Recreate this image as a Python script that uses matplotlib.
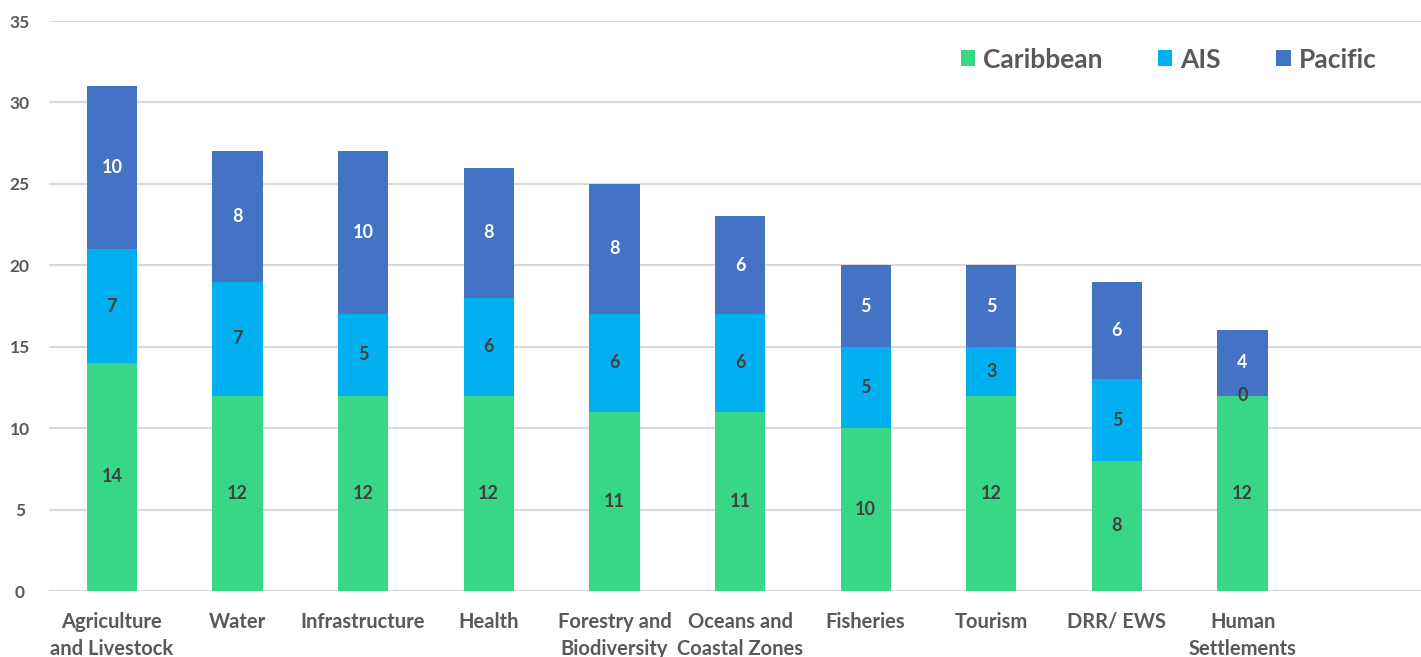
import numpy as np
from matplotlib import pyplot as plt

# sectors and counts per region
sektory = ['Agriculture\nand Livestock', 'Water', 'Infrastructure', 'Health',
           'Forestry and\nBiodiversity', 'Oceans and\nCoastal Zones', 'Fisheries',
           'Tourism', 'DRR/ EWS', 'Human\nSettlements']
caribbean = [14, 12, 12, 12, 11, 11, 10, 12, 8, 12]
ais = [7, 7, 5, 6, 6, 6, 5, 3, 5, 0]
pacific = [10, 8, 10, 8, 8, 6, 5, 5, 6, 4]

plt.rcParams['font.family'] = ['Lato', 'DejaVu Sans']
plt.rcParams['font.weight'] = 'bold'
seda = '#595959'

fig = plt.figure(figsize=(14.21, 6.57), dpi=100)
ax = fig.add_axes([49 / 1421, 66 / 657, 1 - 49 / 1421, 570 / 657])

x = np.arange(len(sektory))
sirka = 0.4
rady = [('Caribbean', caribbean, '#37D786', '#404040'),
        ('AIS', ais, '#00B0F0', '#404040'),
        ('Pacific', pacific, '#4472C4', 'white')]

spodek = np.zeros(len(sektory))
for nazev, hodnoty, barva, barvaTextu in rady:
    hodnoty = np.array(hodnoty)
    ax.bar(x, hodnoty, sirka, bottom=spodek, color=barva, label=nazev, zorder=3)
    for xi, h, b in zip(x, hodnoty, spodek):
        ax.text(xi, b + h / 2, str(h), ha='center', va='center',
                color=barvaTextu, fontsize=13, fontweight='bold', zorder=4)
    spodek = spodek + hodnoty

ax.set_xlim(-0.5, 10.42)
ax.set_ylim(0, 35)
ax.set_yticks(range(0, 36, 5))
ax.yaxis.grid(True, color='#D9D9D9', linewidth=1.5, zorder=0)
ax.set_axisbelow(True)
for s in ['top', 'right', 'left', 'bottom']:
    ax.spines[s].set_visible(False)
ax.tick_params(axis='both', length=0, colors=seda)
ax.tick_params(axis='y', labelsize=12.5, pad=21)
for lbl in ax.get_yticklabels():
    lbl.set_ha('center')
ax.set_xticks(x)
ax.set_xticklabels(sektory, fontsize=14.5, linespacing=1.45)
ax.tick_params(axis='x', pad=15)

leg = ax.legend(loc='upper right', bbox_to_anchor=(0.985, 0.995), ncol=3, frameon=False,
                fontsize=19, handlelength=0.55, handleheight=0.55, handletextpad=0.3,
                columnspacing=2.1, labelcolor=seda)

fig.savefig('out.png', dpi=100)
